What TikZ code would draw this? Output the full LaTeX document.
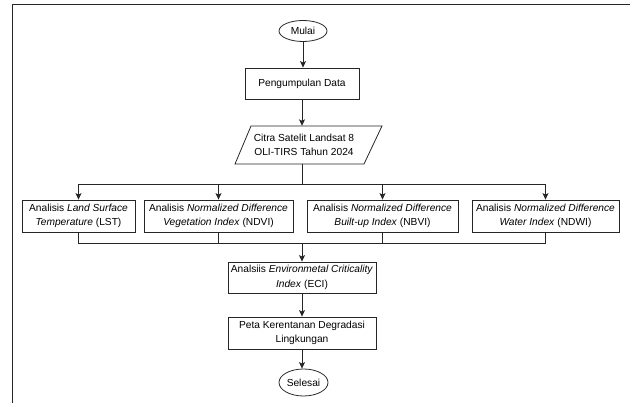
\documentclass[tikz,border=0pt]{standalone}
\usepackage{fontspec}
\setmainfont{Liberation Sans}
\usetikzlibrary{arrows.meta,shapes.geometric}
\tikzset{
  ln/.style={draw=black!85, line width=0.8pt},
  arr/.style={ln, -{Stealth[length=6.5pt,width=6pt,inset=1.5pt]}},
  box/.style={ln, rectangle, inner sep=0pt, align=center, font=\fontsize{10.2}{14.5}\selectfont},
  term/.style={ln, ellipse, inner sep=0pt, align=center, font=\fontsize{10.2}{14.5}\selectfont},
  txt/.style={inner sep=0pt, align=center, font=\fontsize{10.2}{14.5}\selectfont}
}
\begin{document}
\begin{tikzpicture}[x=1pt,y=-1pt]
\useasboundingbox (0,0) rectangle (630,403);
% frame
\draw[ln, line width=1pt] (630,5) -- (12,5) -- (12,403);

\node[term, minimum width=48, minimum height=21] (mulai) at (303,31) {Mulai};
\node[box, minimum width=114, minimum height=31] (peng) at (302,83.5) {Pengumpulan Data};
\node[txt, minimum width=147, minimum height=38] (citra) at (304,145) {Citra Satelit Landsat 8\\ OLI-TIRS Tahun 2024};
\draw[ln] (251,126) -- (382,126) -- (364,164) -- (235,164) -- cycle;

\node[box, minimum width=113, minimum height=32] (lst) at (78.5,216) {Analisis \textit{Land Surface}\\ \textit{Temperature} (LST)};
\node[box, minimum width=149, minimum height=32] (ndvi) at (218.5,216) {Analisis \textit{Normalized Difference}\\ \textit{Vegetation Index} (NDVI)};
\node[box, minimum width=151, minimum height=32] (nbvi) at (382.5,216) {Analisis \textit{Normalized Difference}\\ \textit{Built-up Index} (NBVI)};
\node[box, minimum width=147, minimum height=32] (ndwi) at (545.5,216) {Analisis \textit{Normalized Difference}\\ \textit{Water Index} (NDWI)};

\node[box, minimum width=148, minimum height=31] (eci) at (302,277.5) {Analsiis \textit{Environmetal Criticality}\\ \textit{Index} (ECI)};
\node[box, minimum width=148, minimum height=32] (peta) at (302,333) {Peta Kerentanan Degradasi\\ Lingkungan};
\node[term, minimum width=49, minimum height=27] (selesai) at (303.5,382.5) {Selesai};

\coordinate (split) at (302,184.5);
\coordinate (merge) at (302,243);

\draw[arr] (mulai.south) -- (mulai.south |- peng.north);
\draw[arr] (peng.south) -- (peng.south |- citra.north);
\draw[ln] (peng.south |- citra.south) -- (split);
\draw[ln] (lst.north |- split) -- (ndwi.north |- split);
\draw[arr] (lst.north |- split) -- (lst.north);
\draw[arr] (ndvi.north |- split) -- (ndvi.north);
\draw[arr] (nbvi.north |- split) -- (nbvi.north);
\draw[arr] (ndwi.north |- split) -- (ndwi.north);

\draw[ln] (lst.south) -- (lst.south |- merge) -- (ndwi.south |- merge) -- (ndwi.south);
\draw[ln] (ndvi.south) -- (ndvi.south |- merge);
\draw[ln] (nbvi.south) -- (nbvi.south |- merge);
\draw[arr] (merge) -- (merge |- eci.north);
\draw[arr] (eci.south) -- (eci.south |- peta.north);
\draw[arr] (peta.south) -- (peta.south |- selesai.north);
\end{tikzpicture}
\end{document}
